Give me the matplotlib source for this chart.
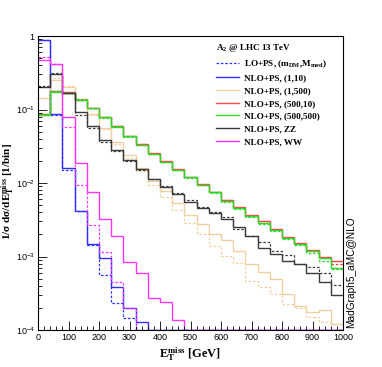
import numpy as np
import matplotlib
matplotlib.use("Agg")
import matplotlib.pyplot as plt
from matplotlib.lines import Line2D
from matplotlib.ticker import FixedLocator, FixedFormatter, LogLocator, NullFormatter, MultipleLocator

plt.rcParams['mathtext.fontset'] = 'custom'
plt.rcParams['mathtext.rm'] = 'Liberation Serif:bold'
plt.rcParams['mathtext.it'] = 'Liberation Serif:bold'
plt.rcParams['mathtext.bf'] = 'Liberation Serif:bold'
plt.rcParams['mathtext.sf'] = 'Liberation Sans'

# 40 GeV bins of missing ET
bin_edges = np.linspace(0, 1000, 26)

# (m_DM, M_med) = (1,10)
blue_nlo = [0.88, 0.087, 0.016, 0.0042, 0.0015, 0.00095, 0.00039, 0.0002, 0.00013,
            0, 0, 0, 0, 0, 0, 0, 0, 0, 0, 0, 0, 0, 0, 0, 0]
blue_lo = [0.88, 0.085, 0.015, 0.0041, 0.00143, 0.00056, 0.00023, 0.000145, 0,
           0, 0, 0, 0, 0, 0, 0, 0, 0, 0, 0, 0, 0, 0, 0, 0]
# (1,500)
tan_nlo = [0.142, 0.25, 0.20, 0.135, 0.086, 0.056, 0.0365, 0.024, 0.016, 0.0108, 0.0077, 0.0053,
           0.0037, 0.0028, 0.0020, 0.0017, 0.0012, 0.00079, 0.00061, 0.00049, 0.00031, 0.00021,
           0.000174, 0.00019, 0.00012]
tan_lo = [0.142, 0.27, 0.21, 0.14, 0.085, 0.054, 0.034, 0.022, 0.0145, 0.0095, 0.0065, 0.0043,
          0.0029, 0.0020, 0.0014, 0.00103, 0.00081, 0.00047, 0.00038, 0.00031, 0.000226, 0.0002,
          0.00015, 0.000127, 0.00012]
# (500,10)
red_nlo = [0.086, 0.177, 0.172, 0.136, 0.106, 0.079, 0.060, 0.044, 0.034, 0.0252, 0.0198, 0.0153,
           0.0121, 0.0097, 0.0076, 0.0059, 0.0047, 0.0037, 0.0030, 0.0024, 0.00185, 0.00155,
           0.00122, 0.00098, 0.00087]
red_lo = [0.085, 0.176, 0.17, 0.137, 0.105, 0.078, 0.059, 0.043, 0.0335, 0.025, 0.0196, 0.0151,
          0.012, 0.0095, 0.0075, 0.0058, 0.0046, 0.0036, 0.0029, 0.0023, 0.0018, 0.0015,
          0.0012, 0.00095, 0.00078]
# (500,500)
green_nlo = [0.084, 0.175, 0.17, 0.135, 0.104, 0.078, 0.058, 0.043, 0.033, 0.025, 0.0195, 0.015,
             0.012, 0.0094, 0.0075, 0.0057, 0.0046, 0.0036, 0.0029, 0.0023, 0.0018, 0.0015,
             0.0012, 0.00095, 0.0007]
green_lo = [0.086, 0.178, 0.17, 0.138, 0.106, 0.077, 0.059, 0.042, 0.033, 0.0245, 0.0192, 0.0148,
            0.0117, 0.0093, 0.0073, 0.0056, 0.0044, 0.0034, 0.0028, 0.0022, 0.00175, 0.00145,
            0.00112, 0.00088, 0.00068]
# ZZ
black_nlo = [0.20, 0.30, 0.17, 0.092, 0.060, 0.038, 0.028, 0.0205, 0.0154, 0.0113, 0.0089, 0.0071,
             0.0056, 0.0045, 0.0039, 0.0032, 0.0025, 0.0019, 0.0013, 0.00108, 0.00086, 0.00079,
             0.00059, 0.00045, 0.00030]
black_lo = [0.21, 0.31, 0.17, 0.085, 0.056, 0.036, 0.027, 0.020, 0.0150, 0.0112, 0.0092, 0.0072,
            0.0058, 0.0047, 0.0040, 0.0034, 0.0024, 0.0019, 0.00156, 0.0012, 0.00104, 0.00079,
            0.00071, 0.00059, 0.00041]
# WW
magenta_nlo = [0.47, 0.41, 0.080, 0.019, 0.0075, 0.0032, 0.0019, 0.00085, 0.00059, 0.00027,
               0.00024, 0.000137, 0, 0, 0, 0, 0, 0, 0, 0, 0, 0, 0, 0, 0]
magenta_lo = [0.51, 0.42, 0.058, 0.0094, 0.0027, 0.00116, 0.00045, 0.0002, 0,
              0, 0, 0, 0, 0, 0, 0, 0, 0, 0, 0, 0, 0, 0, 0, 0]

labels = ['NLO+PS, (1,10)', 'NLO+PS, (1,500)', 'NLO+PS, (500,10)', 'NLO+PS, (500,500)',
          'NLO+PS, ZZ', 'NLO+PS, WW']
colors = ['#2f2fff', '#f0cfa0', '#ff4444', '#2ed82e', '#3a3a3a', '#ff33ff']
nlo_sets = [blue_nlo, tan_nlo, red_nlo, green_nlo, black_nlo, magenta_nlo]
lo_sets = [blue_lo, tan_lo, red_lo, green_lo, black_lo, magenta_lo]

ymin = 1e-4
fig = plt.figure(figsize=(3.82, 3.67), dpi=100)
ax = fig.add_axes([38/382, 1-330/367, 305/382, 294/367])

for nlo, lo, c in zip(nlo_sets, lo_sets, colors):
    ax.stairs(np.clip(lo, ymin, None), bin_edges, color=c, lw=0.9, linestyle=(0, (2, 1.5)), baseline=None)
    ax.stairs(np.clip(nlo, ymin, None), bin_edges, color=c, lw=1.0, baseline=None)

ax.set_yscale('log')
ax.set_xlim(0, 1000)
ax.set_ylim(ymin, 1)

ax.xaxis.set_major_locator(MultipleLocator(100))
ax.xaxis.set_minor_locator(MultipleLocator(20))
ax.yaxis.set_major_locator(FixedLocator([1e-4, 1e-3, 1e-2, 1e-1, 1]))
ax.yaxis.set_major_formatter(FixedFormatter([r'$\mathsf{10^{-4}}$', r'$\mathsf{10^{-3}}$',
                                             r'$\mathsf{10^{-2}}$', r'$\mathsf{10^{-1}}$', r'$\mathsf{1}$']))
ax.yaxis.set_minor_locator(LogLocator(base=10, subs=np.arange(2, 10)))
ax.yaxis.set_minor_formatter(NullFormatter())
ax.tick_params(which='both', direction='in', top=False, right=False, width=0.6, labelsize=6.5)
ax.tick_params(which='major', length=6.3, pad=2.0)
ax.tick_params(which='minor', length=3.2)
for lab in ax.get_xticklabels():
    lab.set_family('Liberation Sans')
for s in ax.spines.values():
    s.set_linewidth(0.8)

ax.set_xlabel(r'E$_{\rm T}^{\rm miss}$ [GeV]', family='Liberation Serif', weight='bold', fontsize=9, labelpad=3)
fig.text(8.6/382, 1-192/367, r'1/σ dσ/dE$_{\rm T}^{\rm miss}$ [1/bin]', family='Liberation Serif',
         weight='bold', fontsize=8.0, rotation=90, ha='center', va='center')

handles = [Line2D([], [], color='#2f2fff', lw=0.9, linestyle=(0, (2, 1.5)))]
handles += [Line2D([], [], color=c, lw=1.0) for c in colors]
leg_labels = [r'LO+PS, (m$_{\rm DM}$,M$_{\rm med}$)'] + labels
leg = ax.legend(handles, leg_labels, loc='upper left', bbox_to_anchor=(0.57, 0.993), frameon=False,
                title=r'A$_2$ @ LHC 13 TeV', alignment='left',
                prop={'family': 'Liberation Serif', 'weight': 'bold', 'size': 6.6},
                handlelength=2.6, handletextpad=0.5, labelspacing=0.47, borderaxespad=0)
leg.get_title().set_fontproperties({'family': 'Liberation Serif', 'weight': 'bold', 'size': 6.6})

fig.text(351/382, 1-272/367, 'MadGraph5_aMC@NLO', rotation=90, ha='center', va='center',
         family='Liberation Sans', fontsize=7.3)

fig.savefig('out.png', dpi=100)
